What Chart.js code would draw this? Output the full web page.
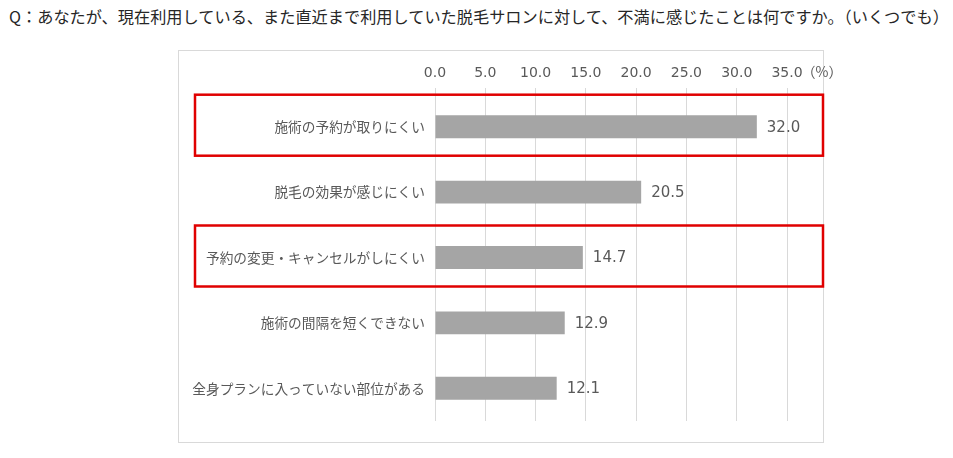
<!DOCTYPE html>
<html lang="ja">
<head>
<meta charset="utf-8">
<script src="https://cdn.jsdelivr.net/npm/chart.js@4/dist/chart.umd.min.js"></script>
<style>
  html, body { margin: 0; padding: 0; background: #fff; }
  body { width: 953px; height: 458px; position: relative; overflow: hidden; }
  #title {
    position: absolute; left: 9px; top: 4px;
    font: 16.2px "Noto Sans CJK JP", sans-serif; color: #262626; white-space: nowrap;
  }
  #frame {
    position: absolute; left: 178px; top: 50px; width: 644px; height: 391px;
    border: 1px solid #d9d9d9;
  }
  #wrap { position: absolute; left: 0; top: 0; width: 953px; height: 458px; }
</style>
</head>
<body>
<div id="title">Q：あなたが、現在利用している、また直近まで利用していた脱毛サロンに対して、不満に感じたことは何ですか。（いくつでも）</div>
<div id="frame"></div>
<div id="wrap"><canvas id="chart"></canvas></div>
<script>
const categories = [
  "施術の予約が取りにくい",
  "脱毛の効果が感じにくい",
  "予約の変更・キャンセルがしにくい",
  "施術の間隔を短くできない",
  "全身プランに入っていない部位がある",
];
const values = [32.0, 20.5, 14.7, 12.9, 12.1];
const highlighted = [0, 2];
const unitLabel = "（%）";

const labelGray = "#595959";

// value labels, red highlight boxes and the unit label
const extras = {
  id: "extras",
  afterDatasetsDraw(chart) {
    const { ctx, chartArea, scales } = chart;
    const meta = chart.getDatasetMeta(0);
    ctx.save();
    ctx.fillStyle = labelGray;
    ctx.font = "15px 'DejaVu Sans', sans-serif";
    ctx.textBaseline = "middle";
    ctx.textAlign = "left";
    meta.data.forEach((bar, i) => {
      ctx.fillText(values[i].toFixed(1), bar.x + 10, bar.y + 1);
    });

    ctx.strokeStyle = "#e00000";
    ctx.lineWidth = 2.5;
    highlighted.forEach((i) => {
      const cy = scales.y.getPixelForValue(i);
      ctx.strokeRect(chartArea.left - 240, cy - 32, chartArea.right + 36 - (chartArea.left - 240), 61);
    });

    ctx.font = "14px 'Noto Sans CJK JP', sans-serif";
    ctx.textAlign = "center";
    ctx.fillText(unitLabel, chartArea.right + 35, 72);
    ctx.restore();
  },
};

new Chart(document.getElementById("chart"), {
  type: "bar",
  data: {
    labels: categories,
    datasets: [
      {
        data: values,
        backgroundColor: "#a5a5a5",
        borderColor: "#a5a5a5",
        barPercentage: 0.35,
        categoryPercentage: 1,
      },
    ],
  },
  options: {
    indexAxis: "y",
    responsive: true,
    maintainAspectRatio: false,
    animation: false,
    layout: { padding: { left: 178, right: 166, top: 50, bottom: 37 } },
    plugins: {
      legend: { display: false },
      tooltip: { enabled: false },
    },
    scales: {
      x: {
        position: "top",
        min: 0,
        max: 35,
        ticks: {
          stepSize: 5,
          color: labelGray,
          font: { family: "'DejaVu Sans', sans-serif", size: 14 },
          padding: 6,
          callback: (v) => Number(v).toFixed(1),
        },
        grid: { color: "#d9d9d9", tickLength: 6, tickColor: "#d9d9d9" },
        border: { display: false },
        afterFit: (scale) => { scale.height = 44; },
      },
      y: {
        ticks: {
          color: labelGray,
          font: { family: "'Noto Sans CJK JP', sans-serif", size: 13.7 },
          padding: 2,
        },
        grid: { display: false },
        border: { display: false },
        afterFit: (scale) => { scale.width = 257; },
      },
    },
  },
  plugins: [extras],
});
</script>
</body>
</html>
